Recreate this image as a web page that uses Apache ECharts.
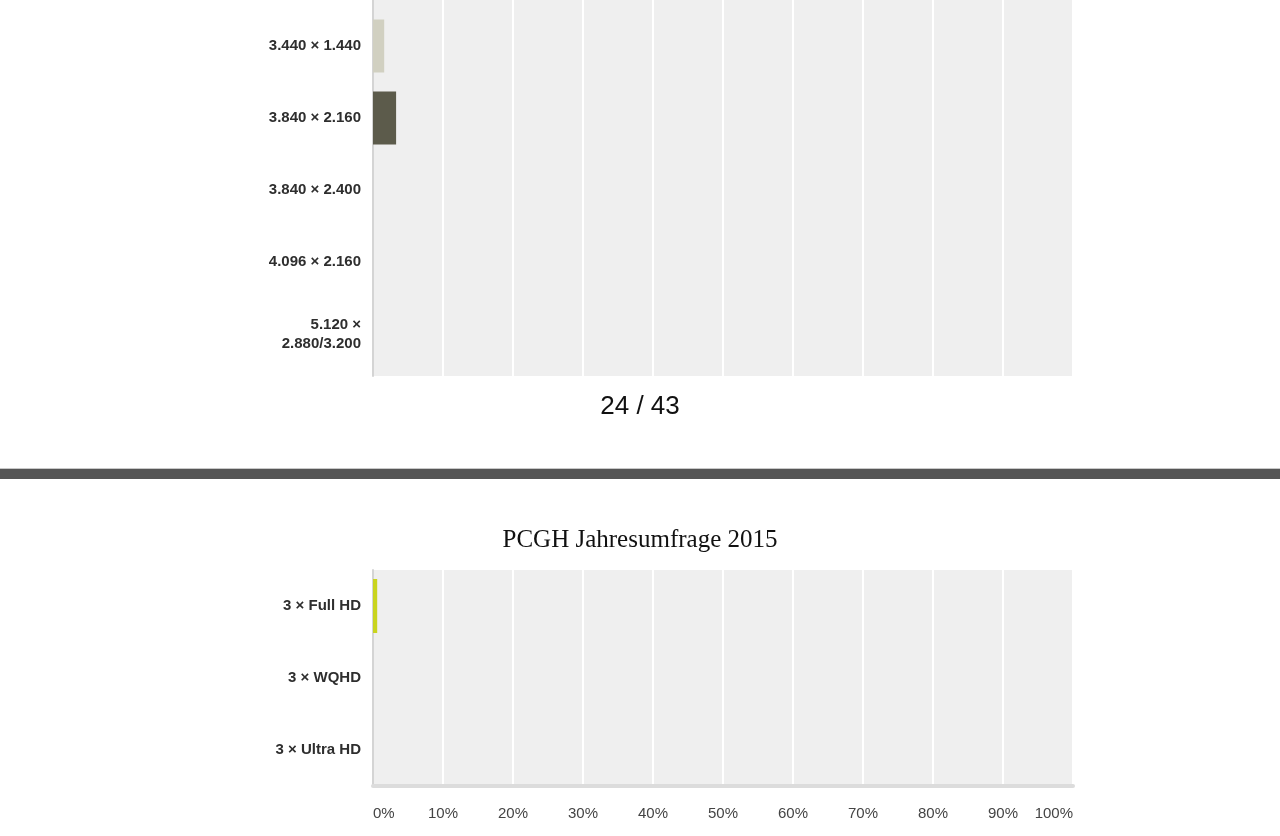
<!DOCTYPE html>
<html>
<head>
<meta charset="utf-8">
<title>PCGH Jahresumfrage 2015</title>
<script src="https://cdn.jsdelivr.net/npm/echarts@6/dist/echarts.min.js"></script>
<style>
  html, body { margin: 0; padding: 0; background: #fff; }
  #chart { width: 1280px; height: 836px; }
</style>
</head>
<body>
<div id="chart"></div>
<script>
// upper chart (cut off at the top of the page)
const topCategories = ['3.440 × 1.440', '3.840 × 2.160', '3.840 × 2.400', '4.096 × 2.160', '5.120 ×\n2.880/3.200'];
const topValues = [1.6, 3.3, 0, 0, 0];
const topColors = ['#d1d0c1', '#5c5b4b', '#9a9886', '#7b7a68', '#b5b4a3'];

// lower chart
const bottomTitle = 'PCGH Jahresumfrage 2015';
const bottomCategories = ['3 × Full HD', '3 × WQHD', '3 × Ultra HD'];
const bottomValues = [0.6, 0, 0];
const bottomColors = ['#c9d41e', '#c9d41e', '#c9d41e'];

const pageLabel = '24 / 43';
const tickStep = 10;   // percent
const tickMax = 100;

const chart = echarts.init(document.getElementById('chart'));

const labelStyle = {
  color: '#2e2e2e',
  fontFamily: 'Liberation Sans, Arial, sans-serif',
  fontWeight: 'bold',
  fontSize: 15,
  lineHeight: 19,
  margin: 12
};

// value axis shared settings
const valueAxis = (extra) => Object.assign({
  type: 'value',
  min: 0,
  max: tickMax,
  interval: tickStep,
  axisTick: { show: false },
  axisLine: { show: false },
  axisLabel: { show: false },
  splitLine: { show: true, lineStyle: { color: '#ffffff', width: 2 } }
}, extra);

chart.setOption({
  backgroundColor: '#ffffff',
  animation: false,
  title: [
    {
      text: pageLabel,
      left: 'center',
      top: 394,
      padding: 0,
      textStyle: { color: '#111', fontFamily: 'Liberation Sans, Arial, sans-serif', fontWeight: 'normal', fontSize: 26 }
    },
    {
      text: bottomTitle,
      left: 'center',
      top: 528,
      padding: 0,
      textStyle: { color: '#111', fontFamily: 'Liberation Serif, Times New Roman, serif', fontWeight: 'normal', fontSize: 25 }
    }
  ],
  grid: [
    // background of the upper chart
    { left: 373, width: 700, top: 0, height: 376, show: true, backgroundColor: '#efefef', borderWidth: 0 },
    // bars of the upper chart
    { left: 373, width: 700, top: 10, height: 360 },
    // lower chart
    { left: 373, width: 700, top: 570, height: 216, show: true, backgroundColor: '#efefef', borderWidth: 0 }
  ],
  xAxis: [
    valueAxis({ gridIndex: 0 }),
    valueAxis({ gridIndex: 1, splitLine: { show: false } }),
    valueAxis({
      gridIndex: 2,
      axisLine: { show: true, onZero: false, lineStyle: { color: '#dcdcdc', width: 4 } },
      axisLabel: {
        show: true,
        formatter: '{value}%',
        color: '#444',
        fontFamily: 'Liberation Sans, Arial, sans-serif',
        fontSize: 15,
        margin: 20,
        alignMinLabel: 'left',
        alignMaxLabel: 'right'
      }
    })
  ],
  yAxis: [
    {
      type: 'category',
      gridIndex: 0,
      data: [''],
      axisTick: { show: false },
      axisLabel: { show: false },
      axisLine: { show: true, lineStyle: { color: '#d4d4d4', width: 2 } }
    },
    {
      type: 'category',
      gridIndex: 1,
      inverse: true,
      data: topCategories,
      axisTick: { show: false },
      axisLine: { show: false },
      axisLabel: labelStyle
    },
    {
      type: 'category',
      gridIndex: 2,
      inverse: true,
      data: bottomCategories,
      axisTick: { show: false },
      axisLine: { show: true, lineStyle: { color: '#d4d4d4', width: 2 } },
      axisLabel: labelStyle
    }
  ],
  graphic: [
    { type: 'rect', shape: { x: 0, y: 468, width: 1280, height: 1 }, style: { fill: '#c8c8c8' } },
    { type: 'rect', shape: { x: 0, y: 469, width: 1280, height: 10 }, style: { fill: '#555555' } }
  ],
  series: [
    {
      type: 'bar',
      xAxisIndex: 1,
      yAxisIndex: 1,
      barWidth: 53,
      data: topValues.map((v, i) => ({ value: v, itemStyle: { color: topColors[i] } }))
    },
    {
      type: 'bar',
      xAxisIndex: 2,
      yAxisIndex: 2,
      barWidth: 54,
      data: bottomValues.map((v, i) => ({ value: v, itemStyle: { color: bottomColors[i] } }))
    }
  ]
});

window.addEventListener('resize', () => chart.resize());
</script>
</body>
</html>
